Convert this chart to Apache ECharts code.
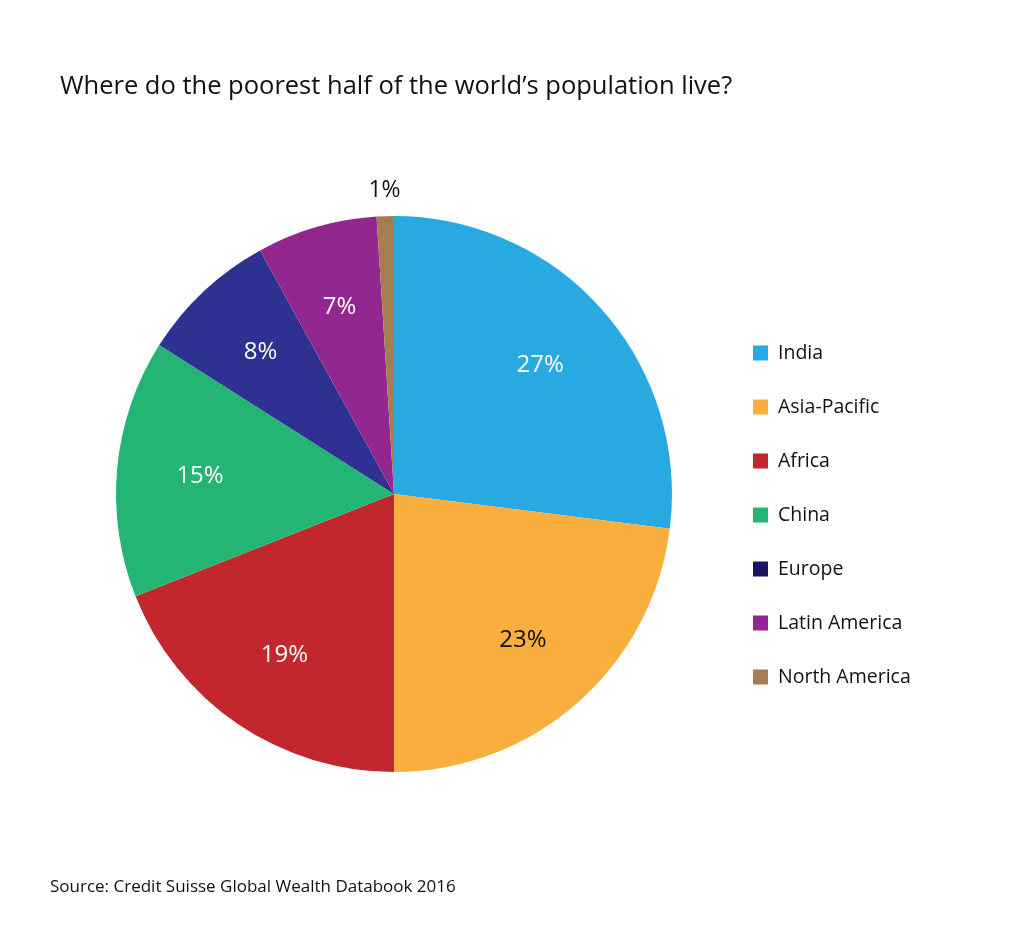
<!DOCTYPE html>
<html><head><meta charset="utf-8">
<script src="https://cdn.jsdelivr.net/npm/echarts@6/dist/echarts.min.js"></script>
<style>html,body{margin:0;padding:0;background:#fff}#c{width:1024px;height:928px}</style>
</head><body><div id="c"></div>
<script>
const categories = ['India','Asia-Pacific','Africa','China','Europe','Latin America','North America'];
const values = [27,23,19,15,8,7,1];
const colors = ['#29A9E1','#F9AE3D','#C1272D','#24B473','#2E3192','#92278F','#A67C52'];
const legendColors = ['#29A9E1','#F9AE3D','#C1272D','#24B473','#1B1464','#92278F','#A67C52'];
const FONT = 'Open Sans';
const center = [394, 494];
const R = 278;

const mainData = categories.map((n,i)=>({
  name:n, value:values[i], itemStyle:{color:colors[i]}
}));
const ghostData = categories.map((n,i)=>({
  name:n, value:values[i],
  label: {show: values[i] >= 3, color: i===1 ? '#111' : '#fff'}
}));
const ghostOuterData = categories.map((n,i)=>({
  name:n, value:values[i],
  label: {show: values[i] < 3, color:'#111'}
}));

const chart = echarts.init(document.getElementById('c'));
chart.setOption({
  backgroundColor:'#fff',
  animation:false,
  color: legendColors,
  title:[
    {text:'Where do the poorest half of the world\u2019s population live?', left:55, top:69,
     textStyle:{fontFamily:FONT, fontSize:25.5, fontWeight:'normal', color:'#111'}},
    {text:'Source: Credit Suisse Global Wealth Databook 2016', left:45, top:874,
     textStyle:{fontFamily:FONT, fontSize:17, fontWeight:'normal', color:'#111'}}
  ],
  legend:{
    orient:'vertical', left:748, top:338, itemWidth:15, itemHeight:15, itemGap:34,
    icon:'rect', selectedMode:false,
    data: categories.map((n,i)=>({name:n, itemStyle:{color:legendColors[i]}})),
    textStyle:{fontFamily:FONT, fontSize:19.5, color:'#111', padding:[0,0,0,5]}
  },
  series:[
    {type:'pie', radius:[0,R], center:center, startAngle:90, clockwise:true,
     silent:true, data:mainData, label:{show:false}, labelLine:{show:false}},
    {type:'pie', radius:[0,R*1.38], center:center, startAngle:90, clockwise:true,
     silent:true, itemStyle:{color:'rgba(0,0,0,0)'}, legendHoverLink:false,
     label:{position:'inside', fontFamily:FONT, fontSize:24, formatter:'{c}%'},
     labelLine:{show:false}, data:ghostData, z:5},
    {type:'pie', radius:[0,R*2.16], center:center, startAngle:90, clockwise:true,
     silent:true, itemStyle:{color:'rgba(0,0,0,0)'}, legendHoverLink:false,
     label:{position:'inside', fontFamily:FONT, fontSize:23, formatter:'{c}%'},
     labelLine:{show:false}, data:ghostOuterData, z:5}
  ]
});
</script></body></html>
